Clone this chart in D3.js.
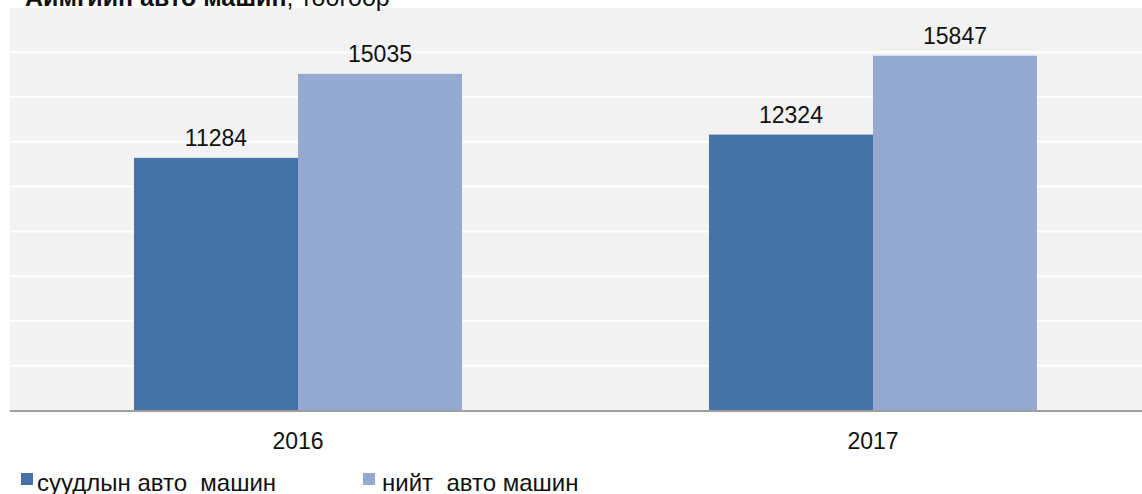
<!DOCTYPE html>
<html>
<head>
<meta charset="utf-8">
<script src="https://cdn.jsdelivr.net/npm/d3@7"></script>
<style>
  body { margin: 0; background: #fff; }
  svg { display: block; font-family: "Liberation Sans", Arial, sans-serif; }
</style>
</head>
<body>
<svg id="chart" width="1142" height="494"></svg>
<script>
// data
const years = ["2016", "2017"];
const seriesNames = ["суудлын авто  машин", "нийт  авто машин"];
const passengerCars = [11284, 12324];
const totalCars = [15035, 15847];
const yTicks = [2000, 4000, 6000, 8000, 10000, 12000, 14000, 16000];

const colors = ["#4673a7", "#95a9d1"];

const svg = d3.select("#chart");
const margin = { top: 7.5, left: 10.5, bottom: 410.5 };

const x = d3.scaleBand()
    .domain(years)
    .range([margin.left, 1160.5])
    .padding(0);

const xSub = d3.scaleBand()
    .domain([0, 1])
    .range([0, x.bandwidth()])
    .paddingInner(0)
    .paddingOuter(0.753);

const y = d3.scaleLinear()
    .domain([0, 18000])
    .range([margin.bottom, margin.top]);

// plot background
svg.append("rect")
    .attr("x", margin.left - 0.5)
    .attr("y", y(18000) + 0.5)
    .attr("width", 1142)
    .attr("height", y(0) - y(18000))
    .attr("fill", "#f2f2f2");

// gridlines
svg.append("g")
    .selectAll("line")
    .data(yTicks)
    .join("line")
    .attr("x1", margin.left)
    .attr("x2", 1142)
    .attr("y1", d => y(d))
    .attr("y2", d => y(d))
    .attr("stroke", "#ffffff")
    .attr("stroke-width", 2);

const rows = years.map((yr, i) => ({ year: yr, values: [passengerCars[i], totalCars[i]] }));

// bars
const groups = svg.append("g")
    .selectAll("g")
    .data(rows)
    .join("g")
    .attr("transform", d => `translate(${x(d.year)},0)`);

groups.selectAll("rect")
    .data(d => d.values.map((v, k) => ({ k, v })))
    .join("rect")
    .attr("x", d => xSub(d.k))
    .attr("y", d => y(d.v))
    .attr("width", xSub.bandwidth())
    .attr("height", d => y(0) - y(d.v))
    .attr("fill", d => colors[d.k]);

// value labels
groups.selectAll("text")
    .data(d => d.values.map((v, k) => ({ k, v })))
    .join("text")
    .attr("x", d => xSub(d.k) + xSub.bandwidth() / 2)
    .attr("y", d => y(d.v) - 12)
    .attr("text-anchor", "middle")
    .attr("font-size", "23px")
    .attr("fill", "#111")
    .text(d => d.v);

// baseline
svg.append("line")
    .attr("x1", margin.left - 0.5)
    .attr("x2", 1142)
    .attr("y1", y(0) + 0.5)
    .attr("y2", y(0) + 0.5)
    .attr("stroke", "#9e9e9e")
    .attr("stroke-width", 2);

// x axis labels
svg.append("g")
    .selectAll("text")
    .data(years)
    .join("text")
    .attr("x", d => x(d) + x.bandwidth() / 2)
    .attr("y", 449)
    .attr("text-anchor", "middle")
    .attr("font-size", "23px")
    .attr("fill", "#111")
    .text(d => d);

// title (cut off at the top, as in the original)
const title = svg.append("text")
    .attr("x", 25)
    .attr("y", 5.5)
    .attr("font-size", "25px")
    .attr("fill", "#111");
title.append("tspan").attr("font-weight", "bold").text("Аймгийн авто машин");
title.append("tspan").text(", тоогоор");

// legend
const legendX = [21, 363];
const legend = svg.append("g")
    .selectAll("g")
    .data(seriesNames)
    .join("g")
    .attr("transform", (d, i) => `translate(${legendX[i]},0)`);

legend.append("rect")
    .attr("x", 0)
    .attr("y", 473)
    .attr("width", 12)
    .attr("height", 12)
    .attr("fill", (d, i) => colors[i]);

legend.append("text")
    .attr("x", (d, i) => i === 0 ? 16 : 19)
    .attr("y", 491)
    .attr("font-size", "24px")
    .attr("fill", "#111")
    .attr("xml:space", "preserve")
    .style("white-space", "pre")
    .text(d => d);
</script>
</body>
</html>
